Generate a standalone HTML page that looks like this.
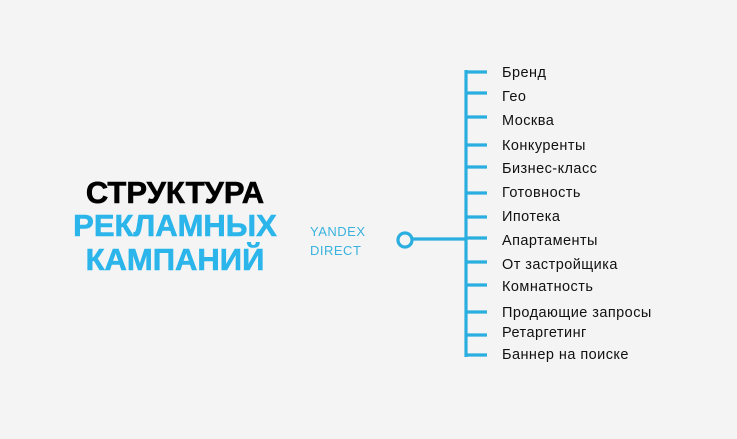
<!DOCTYPE html>
<html><head><meta charset="utf-8"><style>
html,body{margin:0;padding:0;}
body{width:737px;height:439px;background:#f4f4f4;position:relative;overflow:hidden;font-family:"Liberation Sans","DejaVu Sans",sans-serif;}
.t{position:absolute;left:0;width:350px;text-align:center;font-weight:900;font-size:31px;line-height:34px;-webkit-text-stroke:0.6px currentColor;}
.i{position:absolute;left:502px;font-size:14.5px;letter-spacing:0.45px;color:#111;line-height:16px;}
.y{position:absolute;left:310px;font-size:13px;letter-spacing:0.5px;color:#3ab2df;line-height:14px;}
</style></head><body>
<div class="t" style="top:176px;color:#000">СТРУКТУРА</div>
<div class="t" style="top:209px;color:#2bb5ea">РЕКЛАМНЫХ</div>
<div class="t" style="top:243px;color:#2bb5ea">КАМПАНИЙ</div>
<div class="y" style="top:225px">YANDEX</div>
<div class="y" style="top:244px">DIRECT</div>
<svg width="737" height="439" style="position:absolute;left:0;top:0">
<g stroke="#2aaedf" stroke-width="3.2" fill="none">
<circle cx="405" cy="240" r="7"/>
<line x1="412" y1="239" x2="466" y2="239"/>
<line x1="466" y1="70" x2="466" y2="357"/>
<line x1="466" y1="72" x2="487" y2="72"/>
<line x1="466" y1="93" x2="487" y2="93"/>
<line x1="466" y1="117" x2="487" y2="117"/>
<line x1="466" y1="145" x2="487" y2="145"/>
<line x1="466" y1="167" x2="487" y2="167"/>
<line x1="466" y1="193" x2="487" y2="193"/>
<line x1="466" y1="217" x2="487" y2="217"/>
<line x1="466" y1="238" x2="487" y2="238"/>
<line x1="466" y1="262" x2="487" y2="262"/>
<line x1="466" y1="285" x2="487" y2="285"/>
<line x1="466" y1="312" x2="487" y2="312"/>
<line x1="466" y1="335" x2="487" y2="335"/>
<line x1="466" y1="355" x2="487" y2="355"/>
</g></svg>
<div class="i" style="top:65px">Бренд</div>
<div class="i" style="top:89px">Гео</div>
<div class="i" style="top:113px">Москва</div>
<div class="i" style="top:138px">Конкуренты</div>
<div class="i" style="top:161px">Бизнес-класс</div>
<div class="i" style="top:185px">Готовность</div>
<div class="i" style="top:209px">Ипотека</div>
<div class="i" style="top:233px">Апартаменты</div>
<div class="i" style="top:257px">От застройщика</div>
<div class="i" style="top:279px">Комнатность</div>
<div class="i" style="top:305px">Продающие запросы</div>
<div class="i" style="top:325px">Ретаргетинг</div>
<div class="i" style="top:347px">Баннер на поиске</div>
</body></html>
